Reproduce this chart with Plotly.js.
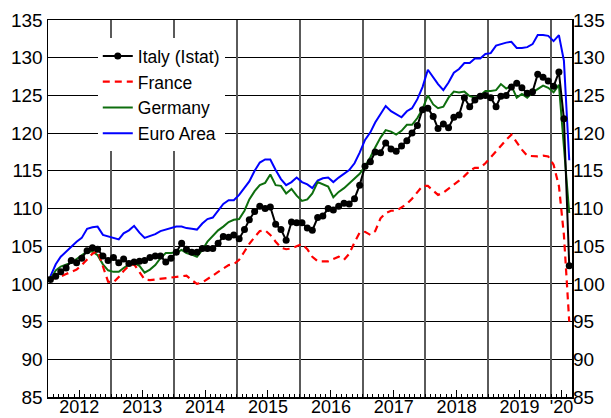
<!DOCTYPE html>
<html><head><meta charset="utf-8">
<script src="https://cdn.plot.ly/plotly-3.0.1.min.js"></script>
<style>html,body{margin:0;padding:0;background:#fff}</style>
</head><body><div id="chart" style="width:611px;height:418px"></div>
<script>
// Monthly indices, Jan 2012 .. Apr 2020
const italy = [
 100.6,101.0,101.6,102.1,103.1,102.8,103.4,104.4,104.8,104.6,103.7,103.1,
 103.5,102.8,103.3,102.7,102.9,103.0,103.1,103.5,103.7,103.7,102.9,103.4,
 104.2,105.4,104.6,104.2,104.2,104.7,104.7,104.7,105.4,106.3,106.2,106.5,
 106.0,107.2,108.5,109.6,110.3,110.0,110.2,107.9,107.2,105.8,108.2,108.1,
 108.1,107.4,107.1,108.8,109.0,110.0,109.8,110.3,110.7,110.6,111.3,113.1,
 115.6,116.2,117.5,117.4,118.7,117.9,117.6,118.3,119.0,120.0,121.0,123.1,
 123.3,122.2,120.6,121.2,120.7,122.1,122.4,124.7,123.5,124.4,124.9,125.0,
 124.7,123.5,124.9,125.0,126.1,126.6,126.0,125.3,125.5,127.8,127.4,126.9,
 126.2,128.1,121.9,102.4
];
const france = [
 100.6,100.8,101.0,101.3,101.6,101.9,102.5,103.2,104.0,104.4,102.3,100.3,
 100.2,100.9,101.7,102.4,102.6,101.6,100.6,100.5,100.6,100.7,100.8,100.9,
 101.0,101.1,101.1,100.5,100.0,100.2,100.7,101.1,101.6,102.1,102.5,102.6,
 103.2,104.3,105.3,106.2,107.0,107.1,106.5,105.6,104.8,104.6,104.7,105.0,
 105.3,104.6,103.6,103.0,103.0,103.0,103.3,103.6,103.2,104.0,105.5,106.8,
 106.9,106.5,107.0,108.7,109.4,109.7,109.7,110.1,110.6,111.3,112.2,113.0,
 113.0,112.3,111.8,112.1,112.6,113.1,113.7,114.3,115.0,115.4,115.4,116.0,
 116.8,117.6,118.4,119.1,119.8,118.8,117.8,117.0,116.9,116.9,117.0,116.9,
 115.8,113.0,106.5,95.0
];
const germany = [
 100.6,101.8,102.3,102.6,102.8,103.3,103.8,104.3,104.3,103.8,102.6,101.8,
 101.6,101.6,102.1,102.6,102.8,102.4,101.5,101.9,102.5,103.4,104.1,104.1,
 104.2,104.5,104.1,103.9,103.6,104.5,105.6,106.3,107.1,107.6,108.2,108.5,
 108.6,109.7,111.2,112.3,113.1,113.4,114.5,113.1,113.0,112.0,112.6,111.7,
 111.0,111.2,112.0,113.5,113.2,112.9,111.5,112.2,112.7,113.3,114.0,114.6,
 115.6,116.8,118.1,119.4,120.4,120.2,119.8,120.3,121.1,121.1,122.0,123.2,
 125.0,123.8,123.3,123.5,124.7,125.5,125.4,125.5,124.9,124.7,125.0,125.6,
 125.6,125.7,126.5,125.9,126.3,124.7,125.2,124.7,125.4,125.9,126.3,126.0,
 125.4,126.4,118.0,109.4
];
const euroArea = [
 101.0,102.6,103.6,104.3,104.9,105.6,106.1,107.3,107.5,107.6,106.5,106.3,
 106.1,105.9,106.7,107.1,107.7,106.8,106.1,106.3,106.6,107.0,107.2,107.4,
 107.6,107.6,107.4,107.3,107.2,108.0,108.6,108.8,109.8,110.6,111.1,111.1,
 111.8,112.8,113.6,115.0,116.1,116.5,116.5,115.1,113.9,113.1,113.5,114.1,
 113.5,113.2,112.7,113.7,114.0,114.1,113.5,114.1,114.6,115.1,116.0,117.4,
 119.1,120.1,121.4,122.5,123.6,122.9,122.5,122.1,122.9,123.3,124.5,126.1,
 128.4,127.4,126.5,125.7,126.7,128.0,128.5,129.3,129.3,129.9,129.9,130.5,
 130.6,131.6,131.8,132.0,132.1,131.3,131.3,131.4,131.8,133.0,133.0,132.9,
 132.2,133.0,129.6,116.4
];
const seriesNames = ['Italy (Istat)', 'France', 'Germany', 'Euro Area'];
const yearLabels = ['2012','2013','2014','2015','2016','2017','2018','2019',"'20"];
const yearLabelDates = ['2012-07-01','2013-07-01','2014-07-01','2015-07-01','2016-07-01',
  '2017-07-01','2018-07-01','2019-07-01','2020-03-01'];

const months = [];
for (let i = 0; i < italy.length; i++) {
  const y = 2012 + Math.floor(i / 12), m = (i % 12) + 1;
  months.push(y + '-' + String(m).padStart(2, '0') + '-15');
}

const traces = [
  {x: months, y: euroArea, name: seriesNames[3], legendrank: 4, mode: 'lines',
   line: {color: '#0000ff', width: 2}},
  {x: months, y: germany, name: seriesNames[2], legendrank: 3, mode: 'lines',
   line: {color: '#0e6e0e', width: 2}},
  {x: months, y: france, name: seriesNames[1], legendrank: 2, mode: 'lines',
   line: {color: '#ff0000', width: 2.2, dash: '7px,5px'}},
  // drawn on the mirrored axes (same ranges) so it sits on top
  {x: months, y: italy, name: seriesNames[0], legendrank: 1, mode: 'lines+markers',
   xaxis: 'x2', yaxis: 'y2',
   line: {color: '#000000', width: 2}, marker: {color: '#000000', size: 7}}
];

const fontFam = 'Liberation Sans, Arial, sans-serif';
const xRange = ['2012-01-01', '2020-05-01'];
const layout = {
  width: 611, height: 418,
  margin: {l: 48, r: 39, t: 20, b: 21, pad: 0},
  paper_bgcolor: '#ffffff', plot_bgcolor: '#ffffff',
  font: {family: fontFam, size: 19, color: '#000000'},
  showlegend: true,
  legend: {x: 0.095, y: 0.952, xanchor: 'left', yanchor: 'top', bgcolor: '#ffffff',
    borderwidth: 0, font: {size: 17.5, family: fontFam, color: '#000'}},
  xaxis: {type: 'date', range: xRange, tickmode: 'array',
    tickvals: yearLabelDates, ticktext: yearLabels, ticks: 'inside', ticklen: 7,
    tickwidth: 1, tickcolor: '#000', showgrid: false, zeroline: false,
    ticklabelstandoff: -7, tickfont: {size: 18, family: fontFam, color: '#000'},
    showline: true, linecolor: '#000', linewidth: 1.5, mirror: true,
    minor: {tickmode: 'linear', tick0: '2012-01-01', dtick: 'M1', ticks: 'inside',
      ticklen: 3, tickwidth: 1, tickcolor: '#000', showgrid: false}},
  xaxis2: {type: 'date', overlaying: 'x', anchor: 'y2', range: xRange,
    tickmode: 'linear', tick0: '2012-01-01', dtick: 'M12', showgrid: true,
    gridcolor: '#5a5a5a', gridwidth: 2, showticklabels: false, ticks: '',
    zeroline: false, showline: false},
  yaxis: {range: [85, 135], tickmode: 'linear', tick0: 85, dtick: 5, showgrid: true,
    gridcolor: '#000', gridwidth: 1, ticks: '', zeroline: false, showline: true,
    linecolor: '#000', linewidth: 1.5, mirror: true},
  yaxis2: {overlaying: 'y', side: 'right', anchor: 'x2', range: [85, 135], tickmode: 'linear',
    tick0: 85, dtick: 5, showgrid: false, ticks: '', zeroline: false, showline: false}
};

Plotly.newPlot('chart', traces, layout, {displayModeBar: false, staticPlot: true});
</script></body></html>
